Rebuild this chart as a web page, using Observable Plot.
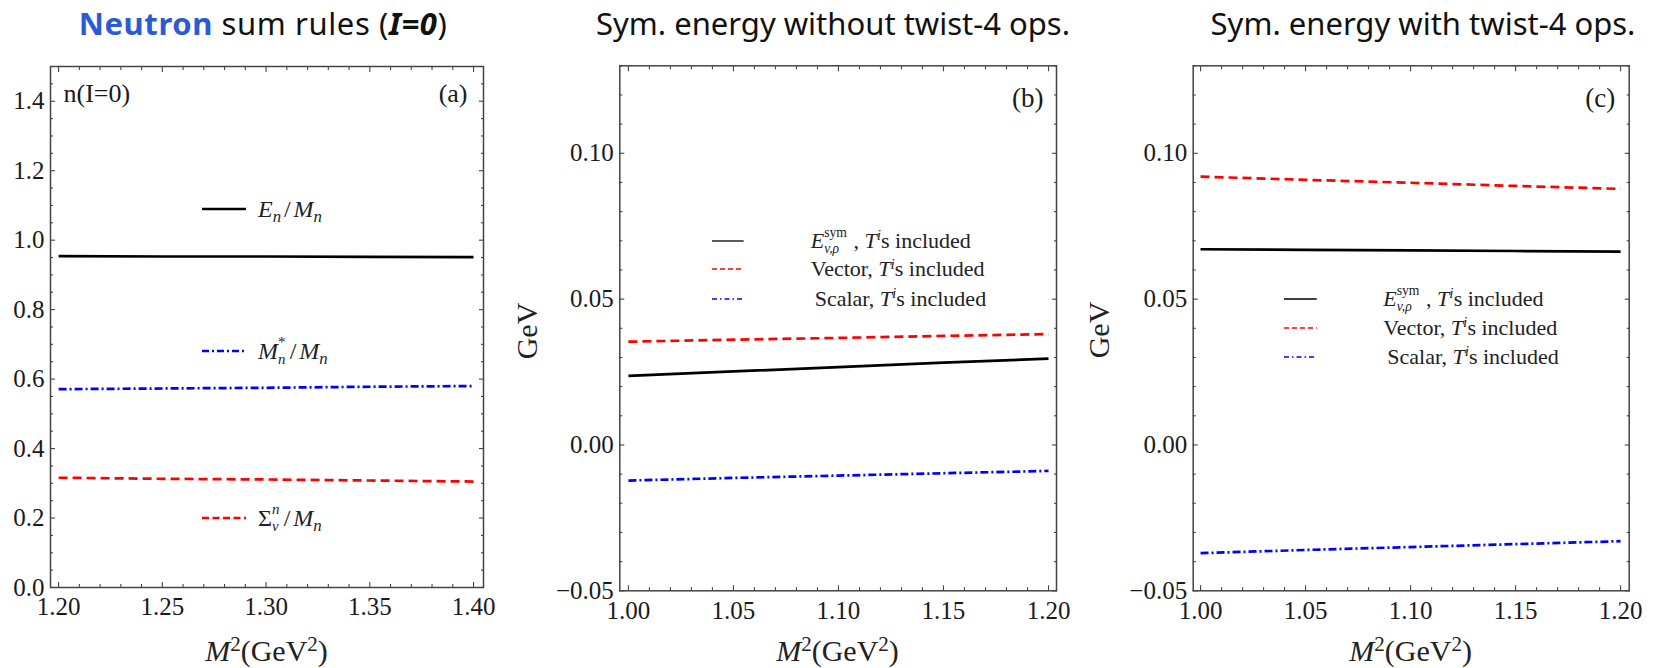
<!DOCTYPE html>
<html><head><meta charset="utf-8">
<script src="https://cdn.jsdelivr.net/npm/d3@7"></script>
<script src="https://cdn.jsdelivr.net/npm/@observablehq/plot@0.6"></script>
<style>
html,body{margin:0;padding:0;background:#fff;}
#root{position:relative;width:1656px;height:668px;overflow:hidden;font-family:"Liberation Serif","Times New Roman",serif;color:#222;}
#root svg.plot-svg{position:absolute;left:0;top:0;pointer-events:none;}
#root svg.plot-svg text{font-family:"Liberation Serif","Times New Roman",serif !important;}
.title{position:absolute;top:8px;font-family:"Noto Sans",sans-serif;font-size:31px;line-height:31px;white-space:nowrap;transform:translateX(-50%);color:#111;}
.leg{position:absolute;transform:translateY(-50%);line-height:1;white-space:nowrap;}
.lsv{position:absolute;overflow:visible;}
.sp{font-size:0.7em;position:relative;top:-0.5em;}
.sb{font-size:0.7em;position:relative;top:0.3em;}
.st{display:inline-block;position:relative;font-size:0.62em;line-height:0.8;height:0;}
.st .u{position:absolute;left:0;top:-1.43em;}
.st .d{position:absolute;left:0;top:-0.29em;}
.sl{padding:0 0.12em;}
.xl{position:absolute;top:636px;font-size:30px;line-height:30px;white-space:nowrap;transform:translateX(-50%);}
.yl{position:absolute;font-size:30px;line-height:30px;white-space:nowrap;transform:translate(-50%,-50%) rotate(-90deg);}
</style></head>
<body><div id="root"></div>
<script>
// ---------------- data ----------------
const titles = ["Neutron sum rules (I=0)", "Sym. energy without twist-4 ops.", "Sym. energy with twist-4 ops."];

// panel (a): neutron sum rules, M^2 from 1.20 to 1.40
const m2A = [1.20, 1.25, 1.30, 1.35, 1.40];
const enOverMn    = [0.954, 0.953, 0.953, 0.952, 0.951];
const mStarOverMn = [0.571, 0.573, 0.575, 0.578, 0.580];
const sigmaOverMn = [0.316, 0.313, 0.311, 0.308, 0.305];

// panels (b), (c): symmetry energy, M^2 from 1.00 to 1.20
const m2BC = [1.00, 1.05, 1.10, 1.15, 1.20];
const bEsym   = [0.0237, 0.0252, 0.0267, 0.0282, 0.0296];
const bVector = [0.0354, 0.0361, 0.0367, 0.0374, 0.0380];
const bScalar = [-0.0122, -0.0113, -0.0105, -0.0097, -0.0089];
const cEsym   = [0.0671, 0.0669, 0.0667, 0.0665, 0.0663];
const cVector = [0.0920, 0.0909, 0.0899, 0.0888, 0.0878];
const cScalar = [-0.0371, -0.0360, -0.0350, -0.0340, -0.0330];

// ticks
const xTicksA = [1.20, 1.25, 1.30, 1.35, 1.40];
const yTicksA = [0.0, 0.2, 0.4, 0.6, 0.8, 1.0, 1.2, 1.4];
const xTicksBC = [1.00, 1.05, 1.10, 1.15, 1.20];
const yTicksBC = [-0.05, 0.00, 0.05, 0.10];
const notMajor = (arr, maj) => arr.filter(v => !maj.some(m => Math.abs(m - v) < 1e-6));
const xMinorA = notMajor(d3.range(1.20, 1.4001, 0.01), xTicksA);
const yMinorA = notMajor(d3.range(0.05, 1.4501, 0.05), yTicksA);
const xMinorBC = notMajor(d3.range(1.00, 1.2001, 0.01), xTicksBC);
const yMinorBC = notMajor(d3.range(-0.04, 0.1301, 0.01), yTicksBC);

// ---------------- drawing ----------------
const W = 1656, H = 668;
const root = document.getElementById("root");
const FRAME = "#444";
const SERIF = "Liberation Serif";

function panel({frame, xDomain, yDomain, xMaj, xMin, yMaj, yMin, yFmt, series, tags}) {
  const [L, R, T, B] = frame;
  const ax = (o) => ({fill: "none", label: null, stroke: FRAME, strokeWidth: 1.1, ...o});
  const marks = [
    ...series.map(s => Plot.line(s.y, {x: s.x, y: d => d, stroke: s.color, strokeWidth: 2.7,
        strokeDasharray: s.dash, strokeLinecap: "butt"})),
    Plot.axisX(ax({ticks: xMaj, anchor: "bottom", tickSize: 5, dy: -5})),
    Plot.axisX(ax({ticks: xMaj, anchor: "top", tickSize: 5, dy: 5})),
    Plot.axisX(ax({ticks: xMin, anchor: "bottom", tickSize: 3, dy: -3})),
    Plot.axisX(ax({ticks: xMin, anchor: "top", tickSize: 3, dy: 3})),
    Plot.axisY(ax({ticks: yMaj, anchor: "left", tickSize: 5, dx: 5})),
    Plot.axisY(ax({ticks: yMaj, anchor: "right", tickSize: 5, dx: -5})),
    Plot.axisY(ax({ticks: yMin, anchor: "left", tickSize: 3, dx: 3})),
    Plot.axisY(ax({ticks: yMin, anchor: "right", tickSize: 3, dx: -3})),
    Plot.axisX({ticks: xMaj, anchor: "bottom", tickSize: 0, tickPadding: 10, tickFormat: d => d.toFixed(2),
        stroke: "none", fill: "#1a1a1a", label: null, fontSize: 25, fontFamily: SERIF}),
    Plot.axisY({ticks: yMaj, anchor: "left", tickSize: 0, tickPadding: 6, tickFormat: yFmt,
        stroke: "none", fill: "#1a1a1a", label: null, fontSize: 25, fontFamily: SERIF}),
    Plot.frame({stroke: FRAME, strokeWidth: 1.5}),
    ...tags.map(t => Plot.text([t.text], {text: d => d, frameAnchor: t.anchor, textAnchor: t.textAnchor,
        lineAnchor: "middle", dx: t.dx, dy: t.dy, fontSize: t.size, fill: "#1a1a1a", fontFamily: SERIF}))
  ];
  const svg = Plot.plot({
    width: W, height: H,
    marginLeft: L, marginRight: W - R, marginTop: T, marginBottom: H - B,
    x: {domain: xDomain},
    y: {domain: yDomain},
    style: {background: "transparent", fontFamily: "Liberation Serif, serif", fontSize: "24px", color: "#222", overflow: "visible"},
    marks
  });
  svg.classList.add("plot-svg");
  root.appendChild(svg);
}

const fmt1 = d => d.toFixed(1);
const fmt2 = d => d.toFixed(2).replace("-", "\u2212");

panel({
  frame: [50, 483, 66, 587],
  xDomain: [1.1961, 1.4048], yDomain: [0, 1.5],
  xMaj: xTicksA, xMin: xMinorA, yMaj: yTicksA, yMin: yMinorA, yFmt: fmt1,
  series: [
    {x: m2A, y: enOverMn, color: "#000", dash: null},
    {x: m2A, y: mStarOverMn, color: "#0000ff", dash: "8,3,2,3"},
    {x: m2A, y: sigmaOverMn, color: "#ff0000", dash: "9,5"}
  ],
  tags: [
    {text: "n(I=0)", anchor: "top-left", textAnchor: "start", dx: 13, dy: 27, size: 26},
    {text: "(a)", anchor: "top-right", textAnchor: "end", dx: -16, dy: 27, size: 26}
  ]
});
panel({
  frame: [619.3, 1056, 65.3, 590.3],
  xDomain: [0.9959, 1.2038], yDomain: [-0.05, 0.13],
  xMaj: xTicksBC, xMin: xMinorBC, yMaj: yTicksBC, yMin: yMinorBC, yFmt: fmt2,
  series: [
    {x: m2BC, y: bEsym, color: "#000", dash: null},
    {x: m2BC, y: bVector, color: "#ff0000", dash: "9,5"},
    {x: m2BC, y: bScalar, color: "#0000ff", dash: "8,3,2,3"}
  ],
  tags: [{text: "(b)", anchor: "top-right", textAnchor: "end", dx: -13, dy: 33, size: 27}]
});
panel({
  frame: [1192.7, 1628.7, 65.3, 590.3],
  xDomain: [0.9965, 1.2041], yDomain: [-0.05, 0.13],
  xMaj: xTicksBC, xMin: xMinorBC, yMaj: yTicksBC, yMin: yMinorBC, yFmt: fmt2,
  series: [
    {x: m2BC, y: cEsym, color: "#000", dash: null},
    {x: m2BC, y: cVector, color: "#ff0000", dash: "9,5"},
    {x: m2BC, y: cScalar, color: "#0000ff", dash: "8,3,2,3"}
  ],
  tags: [{text: "(c)", anchor: "top-right", textAnchor: "end", dx: -14, dy: 33, size: 27}]
});

// ---------------- titles, axis labels, legends ----------------
function addHTML(html) { root.insertAdjacentHTML("beforeend", html); }

const titleX = [263, 833, 1423];
addHTML(`<div class="title" style="left:${titleX[0]}px;letter-spacing:0.6px"><span style="color:#2a5bd4;font-weight:700">Neutron</span> sum rules (<b><i>I=0</i></b>)</div>`);
addHTML(`<div class="title" style="left:${titleX[1]}px">${titles[1]}</div>`);
addHTML(`<div class="title" style="left:${titleX[2]}px">${titles[2]}</div>`);

const xLabel = `<i>M</i><span class="sp">2</span>(GeV<span class="sp">2</span>)`;
[266.5, 837.5, 1410.7].forEach(cx => addHTML(`<div class="xl" style="left:${cx}px">${xLabel}</div>`));
[[527, 331], [1099, 330]].forEach(([cx, cy]) => addHTML(`<div class="yl" style="left:${cx}px;top:${cy}px">GeV</div>`));

function legendItem({x1, x2, y, color, dash, w, tx, html, fs}) {
  const len = x2 - x1;
  addHTML(`<svg class="lsv" style="left:${x1}px;top:${y - 4}px" width="${len}" height="8"><line x1="0" x2="${len}" y1="4" y2="4" stroke="${color}" stroke-width="${w}" ${dash ? `stroke-dasharray="${dash}"` : ""}/></svg>`);
  addHTML(`<div class="leg" style="left:${tx}px;top:${y}px;font-size:${fs}px">${html}</div>`);
}

const it = s => `<i>${s}</i>`;
const stack = (up, dn, wEm) => `<span class="st" style="width:${wEm}em"><span class="u">${up}</span><span class="d">${dn}</span></span>`;
const slash = `<span class="sl">/</span>`;
const legA = [
  {y: 208.7, color: "#000", dash: null, html: `${it("E")}<span class="sb">${it("n")}</span>${slash}${it("M")}<span class="sb">${it("n")}</span>`},
  {y: 350.7, color: "#0000ff", dash: "7,3,2,3", html: `${it("M")}${stack("*", it("n"), 0.6)}${slash}${it("M")}<span class="sb">${it("n")}</span>`},
  {y: 517.7, color: "#ff0000", dash: "7,3.5", html: `Σ${stack(it("n"), it("v"), 0.6)}${slash}${it("M")}<span class="sb">${it("n")}</span>`}
];
legA.forEach(d => legendItem({x1: 202, x2: 246, y: d.y, color: d.color, dash: d.dash, w: 2.7, tx: 258, html: d.html, fs: 24}));

const tHtml = `${it("T")}<span class="sp">${it("i")}</span>s included`;
const legBC = [
  {color: "#000", dash: null, dxText: 0, html: `${it("E")}${stack("sym", it("v,ρ"), 1.75)} , ${tHtml}`},
  {color: "#ff0000", dash: "5,3", dxText: 0, html: `Vector, ${tHtml}`},
  {color: "#0000ff", dash: "5,3,1.5,3", dxText: 4, html: `Scalar, ${tHtml}`}
];
const legPos = [{x1: 711.7, x2: 743.3, ys: [240.7, 269.3, 298.7]}, {x1: 1284.3, x2: 1317, ys: [298.7, 327.7, 356.7]}];
legPos.forEach(p => legBC.forEach((d, i) => legendItem({x1: p.x1, x2: p.x2, y: p.ys[i], color: d.color, dash: d.dash, w: 1.3,
  tx: p.x1 + 99 + d.dxText, html: d.html, fs: 22})));
</script>
</body></html>
